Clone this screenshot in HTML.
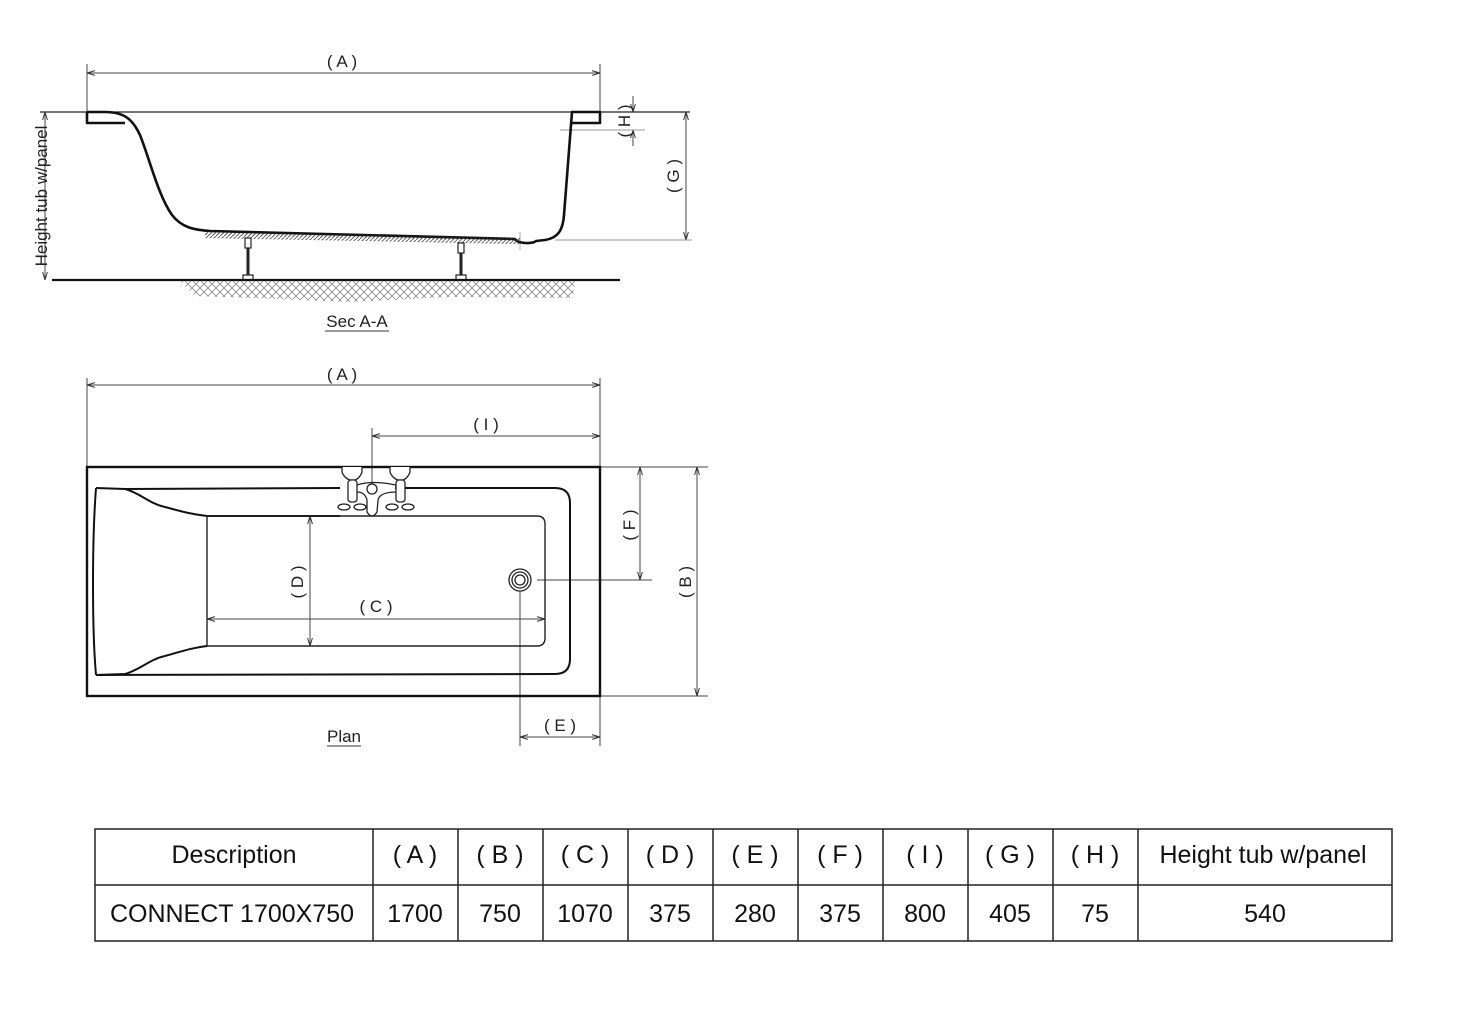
<!DOCTYPE html>
<html><head><meta charset="utf-8"><style>
html,body{margin:0;padding:0;background:#fff;}
svg{display:block;font-family:"Liberation Sans",sans-serif;}
.t{font-size:17px;fill:#222;}
</style></head><body>
<svg width="1481" height="1022" viewBox="0 0 1481 1022" xmlns="http://www.w3.org/2000/svg">
<defs>
<marker id="ar" viewBox="0 0 10 10" refX="10" refY="5" markerWidth="8" markerHeight="8" orient="auto-start-reverse"><path d="M0,2 L10,5 L0,8" fill="none" stroke="#333" stroke-width="1.2"/></marker>
<pattern id="hat" width="8" height="8" patternUnits="userSpaceOnUse"><path d="M0,8 L8,0 M0,0 L8,8" stroke="#777" stroke-width="0.7"/></pattern>
<pattern id="hat2" width="4" height="4" patternUnits="userSpaceOnUse"><path d="M0,4 L4,0" stroke="#333" stroke-width="0.8"/></pattern>
</defs>
<g stroke="#444" stroke-width="1" fill="none">
<line x1="87" y1="64" x2="87" y2="112"/><line x1="600" y1="64" x2="600" y2="112"/>
<line x1="87" y1="73" x2="600" y2="73" marker-start="url(#ar)" marker-end="url(#ar)"/>
<line x1="40" y1="112" x2="690" y2="112" stroke="#222" stroke-width="1.3"/>
<line x1="45" y1="112" x2="45" y2="280" marker-start="url(#ar)" marker-end="url(#ar)"/>
<line x1="633" y1="96" x2="633" y2="112" marker-end="url(#ar)"/>
<line x1="633" y1="146" x2="633" y2="130" marker-end="url(#ar)"/>
<line x1="560" y1="130" x2="645" y2="130" stroke="#999"/>
<line x1="600" y1="92" x2="600" y2="112"/>
<line x1="686" y1="112" x2="686" y2="240" marker-start="url(#ar)" marker-end="url(#ar)"/>
<line x1="555" y1="240" x2="692" y2="240" stroke="#999"/>
<line x1="520" y1="232" x2="520" y2="250" stroke="#aaa"/>
</g>
<g stroke="#111" stroke-width="2.6" fill="none" stroke-linejoin="round">
<path d="M87,112 L87,123 L125,123"/>
<path d="M87,112 L105,112 C125,112 133,120 140,135 C150,160 158,195 172,215 C182,228 195,230 210,231 L515,239 C518,244 533,244 536,241 L545,240 C558,238 563,230 564,215 L572,112 L600,112 L600,123 L572,123"/>
</g>
<rect x="205" y="232" width="315" height="6" fill="url(#hat2)" transform="rotate(1.1 205 232)"/>
<g stroke="#222" fill="#fff" stroke-width="1.2">
<rect x="245" y="238" width="6" height="10"/><line x1="248" y1="248" x2="248" y2="276" stroke-width="3"/><rect x="243" y="275" width="10" height="5"/>
<rect x="458" y="243" width="6" height="10"/><line x1="461" y1="253" x2="461" y2="276" stroke-width="3"/><rect x="456" y="275" width="10" height="5"/>
</g>
<line x1="52" y1="280" x2="620" y2="280" stroke="#111" stroke-width="2.2"/>
<path d="M180,281 L575,281 L573,298 L450,297 L350,302 L250,298 L195,296 Z" fill="url(#hat)"/>
<text class="t" x="342" y="67" text-anchor="middle">( A )</text>
<text class="t" transform="translate(47,196) rotate(-90)" text-anchor="middle" font-size="18">Height tub w/panel</text>
<text class="t" transform="translate(679,176) rotate(-90)" text-anchor="middle">( G )</text>
<text class="t" transform="translate(630,121) rotate(-90)" text-anchor="middle">( H )</text>
<text class="t" x="357" y="327" text-anchor="middle" font-size="16">Sec A-A</text>
<line x1="325" y1="331" x2="389" y2="331" stroke="#333"/>

<g stroke="#444" stroke-width="1" fill="none">
<line x1="87" y1="378" x2="87" y2="467"/><line x1="600" y1="378" x2="600" y2="467"/>
<line x1="87" y1="385" x2="600" y2="385" marker-start="url(#ar)" marker-end="url(#ar)"/>
<line x1="372" y1="428" x2="372" y2="492"/>
<line x1="372" y1="436" x2="600" y2="436" marker-start="url(#ar)" marker-end="url(#ar)"/>
<line x1="600" y1="467" x2="708" y2="467"/><line x1="600" y1="696" x2="708" y2="696"/>
<line x1="697" y1="467" x2="697" y2="696" marker-start="url(#ar)" marker-end="url(#ar)"/>
<line x1="640" y1="467" x2="640" y2="580" marker-start="url(#ar)" marker-end="url(#ar)"/>
<line x1="537" y1="580" x2="652" y2="580"/>
<line x1="520" y1="590" x2="520" y2="746"/><line x1="600" y1="696" x2="600" y2="746"/>
<line x1="520" y1="737" x2="600" y2="737" marker-start="url(#ar)" marker-end="url(#ar)"/>
<line x1="310" y1="516" x2="310" y2="646" marker-start="url(#ar)" marker-end="url(#ar)"/>
<line x1="207" y1="619" x2="545" y2="619" marker-start="url(#ar)" marker-end="url(#ar)"/>
</g>
<rect x="87" y="467" width="513" height="229" fill="none" stroke="#111" stroke-width="2.4"/>
<g fill="none" stroke="#111" stroke-width="2">
<path d="M96,488 L125,489 C140,493 150,504 165,507 C180,511 190,514 207,516 L340,516"/>
<path d="M96,488 C92,540 92,630 96,675 M96,675 L125,674 C140,670 150,659 165,656 C180,652 190,648 207,646"/>
<path d="M96,675 L555,674 Q570,674 570,659 L570,503 Q570,488 555,488 L395,488"/>
<path d="M125,489 L340,488"/>
</g>
<g fill="none" stroke="#222" stroke-width="1.4">
<path d="M340,516 L537,516 Q545,516 545,524 L545,638 Q545,646 537,646 L207,646 L207,516 L340,516"/>
</g>
<g stroke="#222" fill="#fff" stroke-width="1.3">
<circle cx="520" cy="580" r="11"/><circle cx="520" cy="580" r="8"/><circle cx="520" cy="580" r="5"/>
<path d="M342,467 L342,472 Q344,478 350,480 L355,480 Q360,478 362,472 L362,467"/>
<path d="M390,467 L390,472 Q392,478 398,480 L403,480 Q408,478 410,472 L410,467"/>
<path d="M357,485 Q372,480 396,485 M357,492 Q365,492 367,500 L367,512 Q372,520 377,512 L378,500 Q380,492 396,492" fill="none"/>
<rect x="348" y="480" width="9" height="22" rx="3"/><rect x="396" y="480" width="9" height="22" rx="3"/>
<ellipse cx="344" cy="507" rx="6" ry="3"/><ellipse cx="360" cy="507" rx="6" ry="3"/>
<ellipse cx="392" cy="507" rx="6" ry="3"/><ellipse cx="408" cy="507" rx="6" ry="3"/>
<circle cx="372" cy="489" r="5"/>
</g>
<text class="t" x="342" y="380" text-anchor="middle">( A )</text>
<text class="t" x="486" y="430" text-anchor="middle">( I )</text>
<text class="t" transform="translate(691,582) rotate(-90)" text-anchor="middle">( B )</text>
<text class="t" transform="translate(635,525) rotate(-90)" text-anchor="middle">( F )</text>
<text class="t" transform="translate(303,582) rotate(-90)" text-anchor="middle">( D )</text>
<text class="t" x="376" y="612" text-anchor="middle">( C )</text>
<text class="t" x="560" y="731" text-anchor="middle">( E )</text>
<text class="t" x="344" y="742" text-anchor="middle" font-size="16">Plan</text>
<line x1="327" y1="746" x2="361" y2="746" stroke="#333"/>

<g stroke="#222" stroke-width="1.5" fill="none">
<rect x="95" y="829" width="1297" height="112"/>
<line x1="95" y1="885" x2="1392" y2="885"/>
<line x1="373" y1="829" x2="373" y2="941"/><line x1="458" y1="829" x2="458" y2="941"/>
<line x1="543" y1="829" x2="543" y2="941"/><line x1="628" y1="829" x2="628" y2="941"/>
<line x1="713" y1="829" x2="713" y2="941"/><line x1="798" y1="829" x2="798" y2="941"/>
<line x1="883" y1="829" x2="883" y2="941"/><line x1="968" y1="829" x2="968" y2="941"/>
<line x1="1053" y1="829" x2="1053" y2="941"/><line x1="1138" y1="829" x2="1138" y2="941"/>
</g>
<g font-size="25" fill="#111" text-anchor="middle">
<text x="234" y="863">Description</text>
<text x="415" y="863">( A )</text><text x="500" y="863">( B )</text><text x="585" y="863">( C )</text>
<text x="670" y="863">( D )</text><text x="755" y="863">( E )</text><text x="840" y="863">( F )</text>
<text x="925" y="863">( I )</text><text x="1010" y="863">( G )</text><text x="1095" y="863">( H )</text>
<text x="1263" y="863">Height tub w/panel</text>
<text x="232" y="922">CONNECT 1700X750</text>
<text x="415" y="922">1700</text><text x="500" y="922">750</text><text x="585" y="922">1070</text>
<text x="670" y="922">375</text><text x="755" y="922">280</text><text x="840" y="922">375</text>
<text x="925" y="922">800</text><text x="1010" y="922">405</text><text x="1095" y="922">75</text>
<text x="1265" y="922">540</text>
</g>
</svg>
</body></html>
